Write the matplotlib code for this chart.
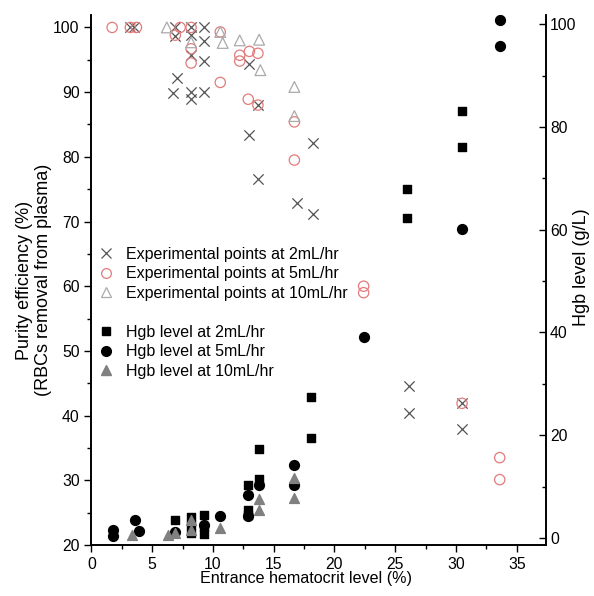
import numpy as np
import matplotlib.pyplot as plt
from matplotlib.ticker import MultipleLocator
from matplotlib.lines import Line2D

plt.rcParams['font.family'] = ['Liberation Sans', 'DejaVu Sans']
plt.rcParams['font.size'] = 11.3

# Purity efficiency (%) - left axis
pur2_x = [3.2, 3.5, 6.9, 6.9, 7.0, 6.7, 8.2, 8.2, 8.2, 8.2, 8.2, 9.3, 9.3, 9.3, 9.3,
          13.0, 13.7, 13.0, 13.7, 16.9, 18.2, 18.2, 26.1, 26.1, 30.5, 30.5]
pur2_y = [100, 100, 100, 98.6, 92.2, 89.9, 100, 98.9, 95.8, 90.0, 89.0, 100, 97.9, 94.8, 90.0,
          94.3, 88.0, 83.3, 76.5, 72.9, 82.2, 71.1, 44.6, 40.4, 41.9, 37.9]

pur5_x = [1.7, 3.2, 3.7, 7.3, 6.9, 8.2, 8.2, 8.2, 10.6, 10.6, 12.2, 12.2, 13.0, 13.7,
          12.9, 13.7, 16.7, 16.7, 22.4, 22.4, 30.5, 33.6, 33.6]
pur5_y = [100, 100, 100, 100, 98.8, 100, 96.7, 94.5, 99.3, 91.5, 95.7, 94.8, 96.3, 96.0,
          88.9, 88.0, 85.4, 79.5, 60.0, 59.0, 41.9, 33.5, 30.1]

pur10_x = [6.2, 8.2, 10.6, 10.8, 12.2, 13.8, 13.9, 16.7, 16.7]
pur10_y = [100, 97.7, 99.3, 97.6, 98.0, 98.1, 93.4, 90.8, 86.3]

# Hgb level (g/L) - right axis
hgb2_x = [6.9, 8.2, 8.2, 8.2, 9.3, 9.3, 9.3, 12.9, 12.9, 12.9, 13.8, 13.8, 18.1, 18.1,
          26.0, 26.0, 30.5, 30.5]
hgb2_y = [3.5, 4.1, 2.5, 1.0, 4.5, 2.2, 0.8, 10.3, 5.4, 4.5, 17.4, 11.4, 27.4, 19.4,
          68.0, 62.2, 83.1, 76.1]

hgb5_x = [1.8, 1.8, 3.6, 3.9, 6.9, 9.3, 10.6, 12.9, 12.9, 13.8, 16.7, 16.7, 22.4, 30.5,
          33.6, 33.6]
hgb5_y = [1.6, 0.4, 3.5, 1.4, 1.2, 2.5, 4.3, 8.4, 4.3, 10.3, 14.2, 10.3, 39.2, 60.1,
          100.8, 95.8]

hgb10_x = [3.3, 6.3, 6.9, 8.2, 8.2, 10.6, 13.8, 13.8, 16.7, 16.7]
hgb10_y = [0.6, 0.6, 0.9, 3.5, 1.5, 2.0, 7.5, 5.4, 11.6, 7.7]

fig = plt.figure(figsize=(5.94, 5.96), dpi=100)
ax = fig.add_axes([0.154, 0.0856, 0.765, 0.889])
ax2 = ax.twinx()

red = '#e27b7b'
ax.scatter(pur2_x, pur2_y, marker='x', s=55, color='#555555', linewidths=0.9, zorder=3)
ax.scatter(pur5_x, pur5_y, marker='o', s=55, facecolors='none', edgecolors=red, linewidths=0.9, zorder=3)
ax.scatter(pur10_x, pur10_y, marker='^', s=60, facecolors='none', edgecolors='#aaaaaa', linewidths=0.9, zorder=3)

ax2.scatter(hgb2_x, hgb2_y, marker='s', s=36, color='black', zorder=3)
ax2.scatter(hgb5_x, hgb5_y, marker='o', s=50, color='black', zorder=3)
ax2.scatter(hgb10_x, hgb10_y, marker='^', s=50, color='#808080', zorder=4)

ax.set_xlim(0, 37.4)
ax.set_ylim(20, 101.9)
ax2.set_ylim(-1.36, 101.75)

ax.xaxis.set_major_locator(MultipleLocator(5))
ax.xaxis.set_minor_locator(MultipleLocator(2.5))
ax.yaxis.set_major_locator(MultipleLocator(10))
ax.yaxis.set_minor_locator(MultipleLocator(5))
ax2.yaxis.set_major_locator(MultipleLocator(20))
ax2.yaxis.set_minor_locator(MultipleLocator(10))

ax.tick_params(which='major', direction='out', length=5, width=1)
ax.tick_params(which='minor', direction='out', length=3, width=1)
ax2.tick_params(which='major', direction='in', length=5, width=1, pad=3)
ax2.tick_params(which='minor', direction='in', length=3, width=1)

for a in (ax, ax2):
    a.spines['top'].set_visible(False)
    for s in ('left', 'right', 'bottom'):
        a.spines[s].set_linewidth(1.2)

ax.set_xlabel('Entrance hematocrit level (%)', fontsize=11.6)
ax.xaxis.set_label_coords(0.472, -0.05)
ax.set_ylabel('Purity efficiency (%)\n(RBCs removal from plasma)', labelpad=1, fontsize=13,
              linespacing=1.15)
ax2.set_ylabel('Hgb level (g/L)', fontsize=13)
ax2.yaxis.set_label_coords(1.059, 0.525)

handles = [
    Line2D([], [], ls='none', marker='x', ms=7, mec='#555555', mew=0.9),
    Line2D([], [], ls='none', marker='o', ms=7, mfc='none', mec=red, mew=0.9),
    Line2D([], [], ls='none', marker='^', ms=7, mfc='none', mec='#aaaaaa', mew=0.9),
    Line2D([], [], ls='none'),
    Line2D([], [], ls='none', marker='s', ms=6, color='black'),
    Line2D([], [], ls='none', marker='o', ms=7, color='black'),
    Line2D([], [], ls='none', marker='^', ms=7, color='#808080'),
]
labels = ['Experimental points at 2mL/hr', 'Experimental points at 5mL/hr',
          'Experimental points at 10mL/hr', ' ',
          'Hgb level at 2mL/hr', 'Hgb level at 5mL/hr', 'Hgb level at 10mL/hr']
ax.legend(handles, labels, loc='upper left', bbox_to_anchor=(-0.025, 0.59), frameon=False,
          handletextpad=0.45, labelspacing=0.28, handlelength=1.5, fontsize=11.5)

fig.savefig('out.png', dpi=100)
